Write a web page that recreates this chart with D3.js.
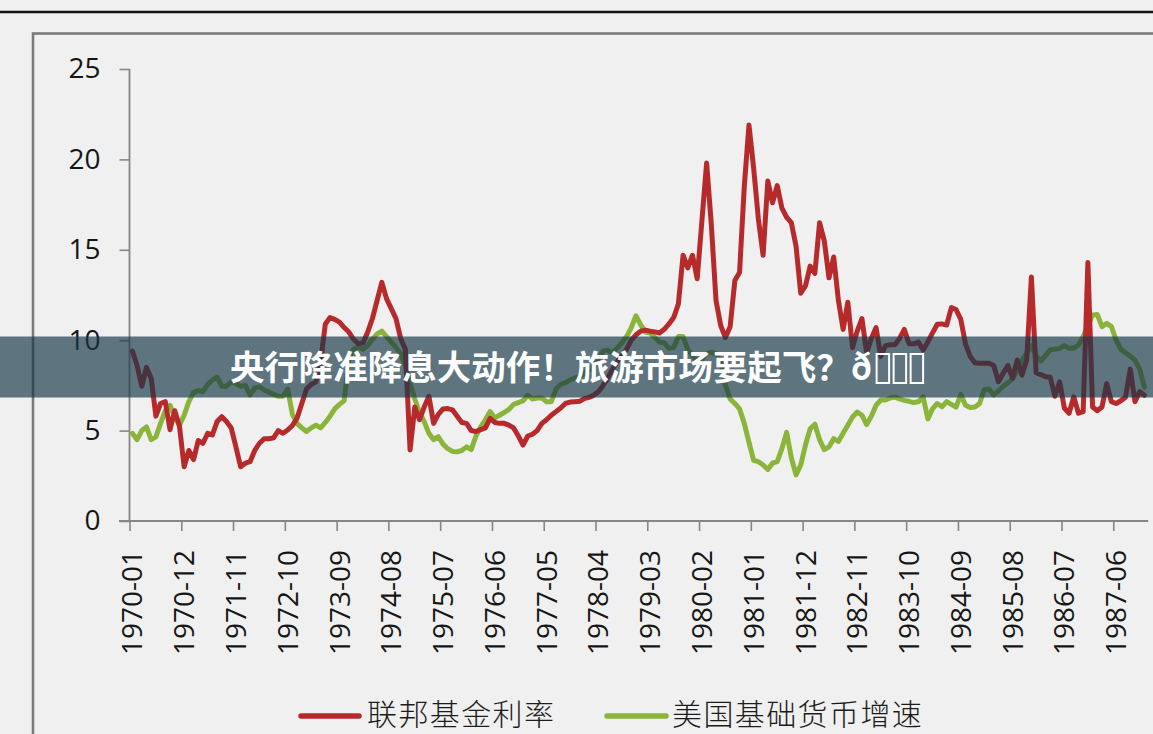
<!DOCTYPE html>
<html><head><meta charset="utf-8">
<script src="https://cdn.jsdelivr.net/npm/d3@7/dist/d3.min.js"></script>
<style>
html,body{margin:0;padding:0;background:#f0f0f0;}
svg{display:block;}
</style></head>
<body>
<svg id="c" width="1153" height="734"></svg>
<script>
// ---- data ----
const startMonth = new Date(1970, 0, 1);
const endMonth = new Date(1988, 0, 1); // exclusive
const tickLabels = ["1970-01","1970-12","1971-11","1972-10","1973-09","1974-08","1975-07","1976-06","1977-05","1978-04","1979-03","1980-02","1981-01","1981-12","1982-11","1983-10","1984-09","1985-08","1986-07","1987-06"];
const yTicks = [0,5,10,15,20,25];
const seriesNames = ["联邦基金利率","美国基础货币增速"];
const bannerText = "央行降准降息大动作！旅游市场要起飞？ð";

const fedFunds = [
 9.4,8.6,7.45,8.5,7.9,5.8,6.5,6.6,5.05,6.1,5.25,3.0,
 3.9,3.4,4.45,4.3,4.85,4.76,5.5,5.77,5.5,5.15,4.1,3.0,
 3.2,3.28,3.9,4.3,4.55,4.55,4.6,5.0,4.85,5.03,5.28,5.7,
 6.5,7.3,7.55,7.7,8.8,10.9,11.25,11.15,11.0,10.7,10.45,10.05,
 9.8,9.85,10.45,11.2,12.2,13.2,12.3,11.75,11.2,10.1,9.5,3.93,
 6.3,5.6,6.3,6.9,5.4,5.9,6.2,6.22,6.15,5.8,5.45,5.4,
 5.0,4.95,5.05,5.15,5.68,5.45,5.4,5.4,5.3,5.15,4.7,4.2,
 4.7,4.8,5.0,5.4,5.6,5.85,6.05,6.25,6.5,6.58,6.6,6.62,
 6.77,6.84,6.95,7.15,7.5,7.9,8.4,8.8,9.15,9.5,10.0,10.3,
 10.5,10.56,10.5,10.46,10.4,10.6,10.9,11.25,12.0,14.7,14.0,14.7,
 13.4,16.6,19.8,16.4,12.2,10.8,10.15,10.75,13.3,13.75,18.5,21.9,
 19.5,16.7,14.7,18.8,17.6,18.55,17.3,16.8,16.5,15.2,12.6,13.0,
 14.1,13.7,16.5,15.5,13.45,14.6,12.2,10.6,12.1,9.6,10.5,11.2,
 9.3,10.1,10.7,9.1,9.7,9.75,9.75,10.1,10.6,9.8,9.8,9.9,
 9.46,9.9,10.4,10.88,10.9,10.84,11.8,11.7,11.15,9.8,9.1,8.75,
 8.72,8.72,8.72,8.6,7.7,8.17,8.6,7.9,8.9,8.07,8.9,13.5,
 8.2,8.1,7.98,7.95,6.9,7.7,6.25,5.96,6.87,5.96,6.05,14.3,
 6.3,6.1,6.3,7.6,6.6,6.5,6.65,6.85,8.4,6.6,7.15,6.95
];
const baseGrowth = [
 4.85,4.5,5.0,5.2,4.5,4.65,5.4,6.1,6.4,5.75,5.3,5.85,
 6.6,7.1,7.22,7.15,7.55,7.8,7.95,7.45,7.45,7.7,7.6,7.45,
 7.5,6.97,7.35,7.42,7.25,7.13,7.0,6.9,6.9,7.3,5.9,5.4,
 5.15,4.95,5.15,5.3,5.15,5.45,5.8,6.2,6.45,6.65,9.0,9.5,
 9.64,9.5,9.7,10.05,10.35,10.5,10.2,9.9,9.6,9.25,8.6,7.6,
 6.75,6.0,5.5,4.85,4.5,4.66,4.25,4.0,3.85,3.83,3.9,4.1,
 3.95,4.7,5.2,5.6,6.05,5.7,5.85,6.0,6.17,6.45,6.55,6.65,
 6.95,6.75,6.8,6.8,6.6,6.6,7.3,7.55,7.65,7.8,7.9,8.0,
 8.17,8.35,8.55,8.95,9.4,9.45,9.3,9.57,9.85,10.2,10.7,11.35,
 10.85,10.45,10.4,10.15,9.9,9.85,9.55,9.6,10.2,10.2,9.5,9.15,
 8.85,8.95,9.27,9.33,9.25,8.9,7.5,6.75,6.5,6.2,5.4,4.35,
 3.35,3.28,3.1,2.85,3.2,3.28,4.0,4.9,3.5,2.55,3.1,4.2,
 5.1,5.35,4.5,3.95,4.1,4.55,4.4,4.85,5.3,5.75,6.03,5.85,
 5.33,5.8,6.4,6.69,6.69,6.8,6.85,6.75,6.67,6.62,6.55,6.6,
 6.87,5.65,6.2,6.5,6.32,6.6,6.45,6.3,7.0,6.4,6.28,6.3,
 6.5,7.27,7.3,6.97,7.2,7.45,7.65,7.85,8.35,8.9,9.27,9.7,
 9.15,8.85,9.15,9.47,9.5,9.55,9.7,9.55,9.56,9.73,10.2,10.8,
 11.4,11.42,10.75,10.93,10.75,10.0,9.5,9.3,9.12,8.9,8.4,7.4
];

// ---- chart ----
const fmt = d3.timeFormat("%Y-%m");
const months = d3.timeMonth.range(startMonth, endMonth).map(fmt);
const svg = d3.select("#c");
const W = 1153, H = 734;

svg.append("rect").attr("width", W).attr("height", H).attr("fill", "#f0f0f0");
svg.append("line").attr("x1", 0).attr("x2", W).attr("y1", 12).attr("y2", 12)
  .attr("stroke", "#141414").attr("stroke-width", 2.4);
svg.append("rect").attr("x", 33).attr("y", 33.5).attr("width", 1200).attr("height", 800)
  .attr("fill", "none").attr("stroke", "#7a7a7a").attr("stroke-width", 2.6);

const x = d3.scaleBand().domain(months).range([130, 130 + months.length * 4.707]).paddingInner(0).paddingOuter(0);
const bw = x.bandwidth();
const y = d3.scaleLinear().domain([0, 25]).range([521, 69]);

const axisColor = "#868686";
const labFont = "'Open Sans','Noto Sans',sans-serif";

// y axis
const gy = svg.append("g").attr("transform", "translate(129.5,0)")
  .call(d3.axisLeft(y).tickValues(yTicks).tickSize(10).tickSizeOuter(0).tickPadding(19));
gy.select(".domain").remove();
gy.selectAll(".tick line").attr("stroke", axisColor).attr("stroke-width", 1.6);
gy.selectAll(".tick text").attr("fill", "#161616").style("font-family", labFont).style("font-size", "28px");
svg.append("line").attr("x1", 129.5).attr("x2", 129.5).attr("y1", y(25)).attr("y2", y(0))
  .attr("stroke", axisColor).attr("stroke-width", 1.8);

// x axis
const gx = svg.append("g").attr("transform", "translate(0,521)")
  .call(d3.axisBottom(x).tickValues(tickLabels).tickSize(10).tickSizeOuter(0));
gx.select(".domain").remove();
gx.selectAll(".tick line").attr("x1", -bw / 2).attr("x2", -bw / 2).attr("stroke", axisColor).attr("stroke-width", 1.6);
gx.selectAll(".tick text")
  .attr("transform", "rotate(-90)")
  .attr("text-anchor", "end")
  .attr("x", -29).attr("y", 0).attr("dy", "0.36em")
  .attr("fill", "#161616").style("font-family", labFont).style("font-size", "28px");
svg.append("line").attr("x1", 119).attr("x2", x.range()[1] + 1.5).attr("y1", 521).attr("y2", 521)
  .attr("stroke", axisColor).attr("stroke-width", 1.8);

// lines
const colors = ["#b72a2b", "#8bb43b"];
const lineGen = d3.line().x((d, i) => x(months[i]) + bw / 2).y(d => y(d));
svg.append("path").datum(baseGrowth).attr("d", lineGen).attr("fill", "none")
  .attr("stroke", colors[1]).attr("stroke-width", 5).attr("stroke-linejoin", "round").attr("stroke-linecap", "round");
svg.append("path").datum(fedFunds).attr("d", lineGen).attr("fill", "none")
  .attr("stroke", colors[0]).attr("stroke-width", 5).attr("stroke-linejoin", "round").attr("stroke-linecap", "round");

// legend
const legend = [
  {name: seriesNames[0], color: colors[0], x1: 301, x2: 359, tx: 367},
  {name: seriesNames[1], color: colors[1], x1: 607, x2: 666, tx: 672}
];
legend.forEach(l => {
  svg.append("line").attr("x1", l.x1).attr("x2", l.x2).attr("y1", 716).attr("y2", 716)
    .attr("stroke", l.color).attr("stroke-width", 5.5).attr("stroke-linecap", "round");
  svg.append("text").attr("x", l.tx).attr("y", 725)
    .attr("fill", "#1c1c1c").style("font-family", "'Noto Sans CJK SC',sans-serif")
    .style("font-size", "30px").style("font-weight", 300).style("letter-spacing", "1.4px").text(l.name);
});

// banner overlay
svg.append("rect").attr("x", 0).attr("y", 336.5).attr("width", W).attr("height", 61)
  .attr("fill", "rgb(22,55,72)").attr("fill-opacity", 0.67);
const bt = svg.append("text").attr("y", 368).attr("dy", "0.36em")
  .attr("fill", "#ffffff").style("font-family", "'Noto Sans CJK SC',sans-serif")
  .style("font-size", "34.5px").style("font-weight", 700).text(bannerText);
const tw = bt.node().getComputedTextLength();
const boxW = 12.5, boxGap = 4.5, boxes = 3;
const total = tw + 4 + boxes * boxW + (boxes - 1) * boxGap;
const sx = W / 2 - total / 2;
bt.attr("x", sx);
for (let k = 0; k < boxes; k++) {
  svg.append("rect").attr("x", sx + tw + 4 + k * (boxW + boxGap)).attr("y", 354)
    .attr("width", boxW).attr("height", 29).attr("fill", "none")
    .attr("stroke", "#ffffff").attr("stroke-width", 2);
}
</script>
</body></html>
